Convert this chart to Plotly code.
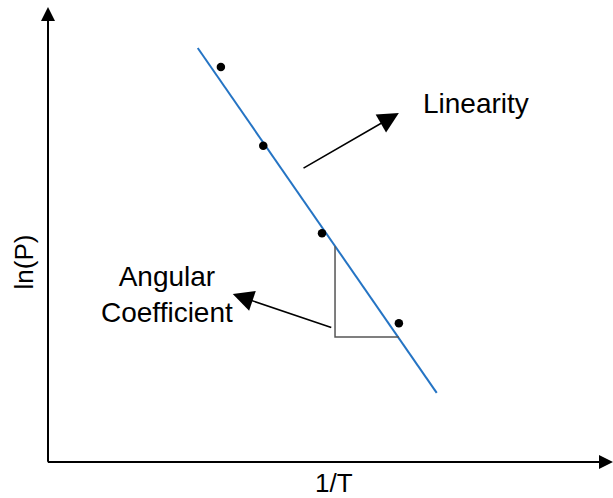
import plotly.graph_objects as go

# Schematic data (arbitrary units)
inv_T = [0.306, 0.381, 0.485, 0.621]
ln_P = [0.868, 0.695, 0.503, 0.305]

fit_x = [0.265, 0.688]
fit_y = [0.910, 0.152]

tri_x = [0.508, 0.508, 0.621]
tri_y = [0.474, 0.275, 0.275]

labels = ["Linearity", "Angular<br>Coefficient"]
label_x = [0.757, 0.2106]
label_y = [0.788, 0.369]

arrow_tail_x = [0.4496, 0.504]
arrow_tail_y = [0.644, 0.2945]
arrow_tip_x = [0.621, 0.327]
arrow_tip_y = [0.767, 0.369]

x_title = "1/T"
y_title = "ln(P)"

FONT = "Liberation Sans, Arial, sans-serif"

fig = go.Figure()
fig.add_trace(go.Scatter(x=fit_x, y=fit_y, mode="lines",
                         line=dict(color="#2574c4", width=2), showlegend=False, hoverinfo="skip"))
fig.add_trace(go.Scatter(x=tri_x, y=tri_y, mode="lines",
                         line=dict(color="#555555", width=1.5), showlegend=False, hoverinfo="skip"))
fig.add_trace(go.Scatter(x=inv_T, y=ln_P, mode="markers",
                         marker=dict(color="black", size=8.5), showlegend=False))

annotations = []
# axes with arrowheads
annotations.append(dict(x=1.0, y=0, ax=-0.003, ay=0, xref="x", yref="y", axref="x", ayref="y",
                        showarrow=True, arrowhead=2, arrowsize=1.4, arrowwidth=2, arrowcolor="black", text=""))
annotations.append(dict(x=0, y=1.0, ax=0, ay=-0.003, xref="x", yref="y", axref="x", ayref="y",
                        showarrow=True, arrowhead=2, arrowsize=1.4, arrowwidth=2, arrowcolor="black", text=""))
# pointer arrows
for tx, ty, hx, hy in zip(arrow_tail_x, arrow_tail_y, arrow_tip_x, arrow_tip_y):
    annotations.append(dict(x=hx, y=hy, ax=tx, ay=ty, xref="x", yref="y", axref="x", ayref="y",
                            showarrow=True, arrowhead=2, arrowsize=2.6, arrowwidth=1.6,
                            arrowcolor="black", text=""))
# labels
for t, lx, ly in zip(labels, label_x, label_y):
    annotations.append(dict(x=lx, y=ly, xref="x", yref="y", text=t, showarrow=False,
                            font=dict(family=FONT, size=28, color="black"),
                            xanchor="center", yanchor="middle", align="center"))
annotations.append(dict(x=0.506, y=-0.046, xref="paper", yref="paper", text=x_title, showarrow=False,
                        font=dict(family=FONT, size=26, color="black"),
                        xanchor="center", yanchor="middle"))
annotations.append(dict(x=-0.043, y=0.44, xref="paper", yref="paper", text=y_title, showarrow=False,
                        textangle=-90,
                        font=dict(family=FONT, size=26, color="black"),
                        xanchor="center", yanchor="middle"))

fig.update_layout(
    width=613, height=498,
    margin=dict(l=48, r=0, t=7, b=36),
    paper_bgcolor="white", plot_bgcolor="white",
    xaxis=dict(range=[0, 1], visible=False, fixedrange=True),
    yaxis=dict(range=[0, 1], visible=False, fixedrange=True),
    annotations=annotations,
    showlegend=False,
)

fig.write_html("out.html")
